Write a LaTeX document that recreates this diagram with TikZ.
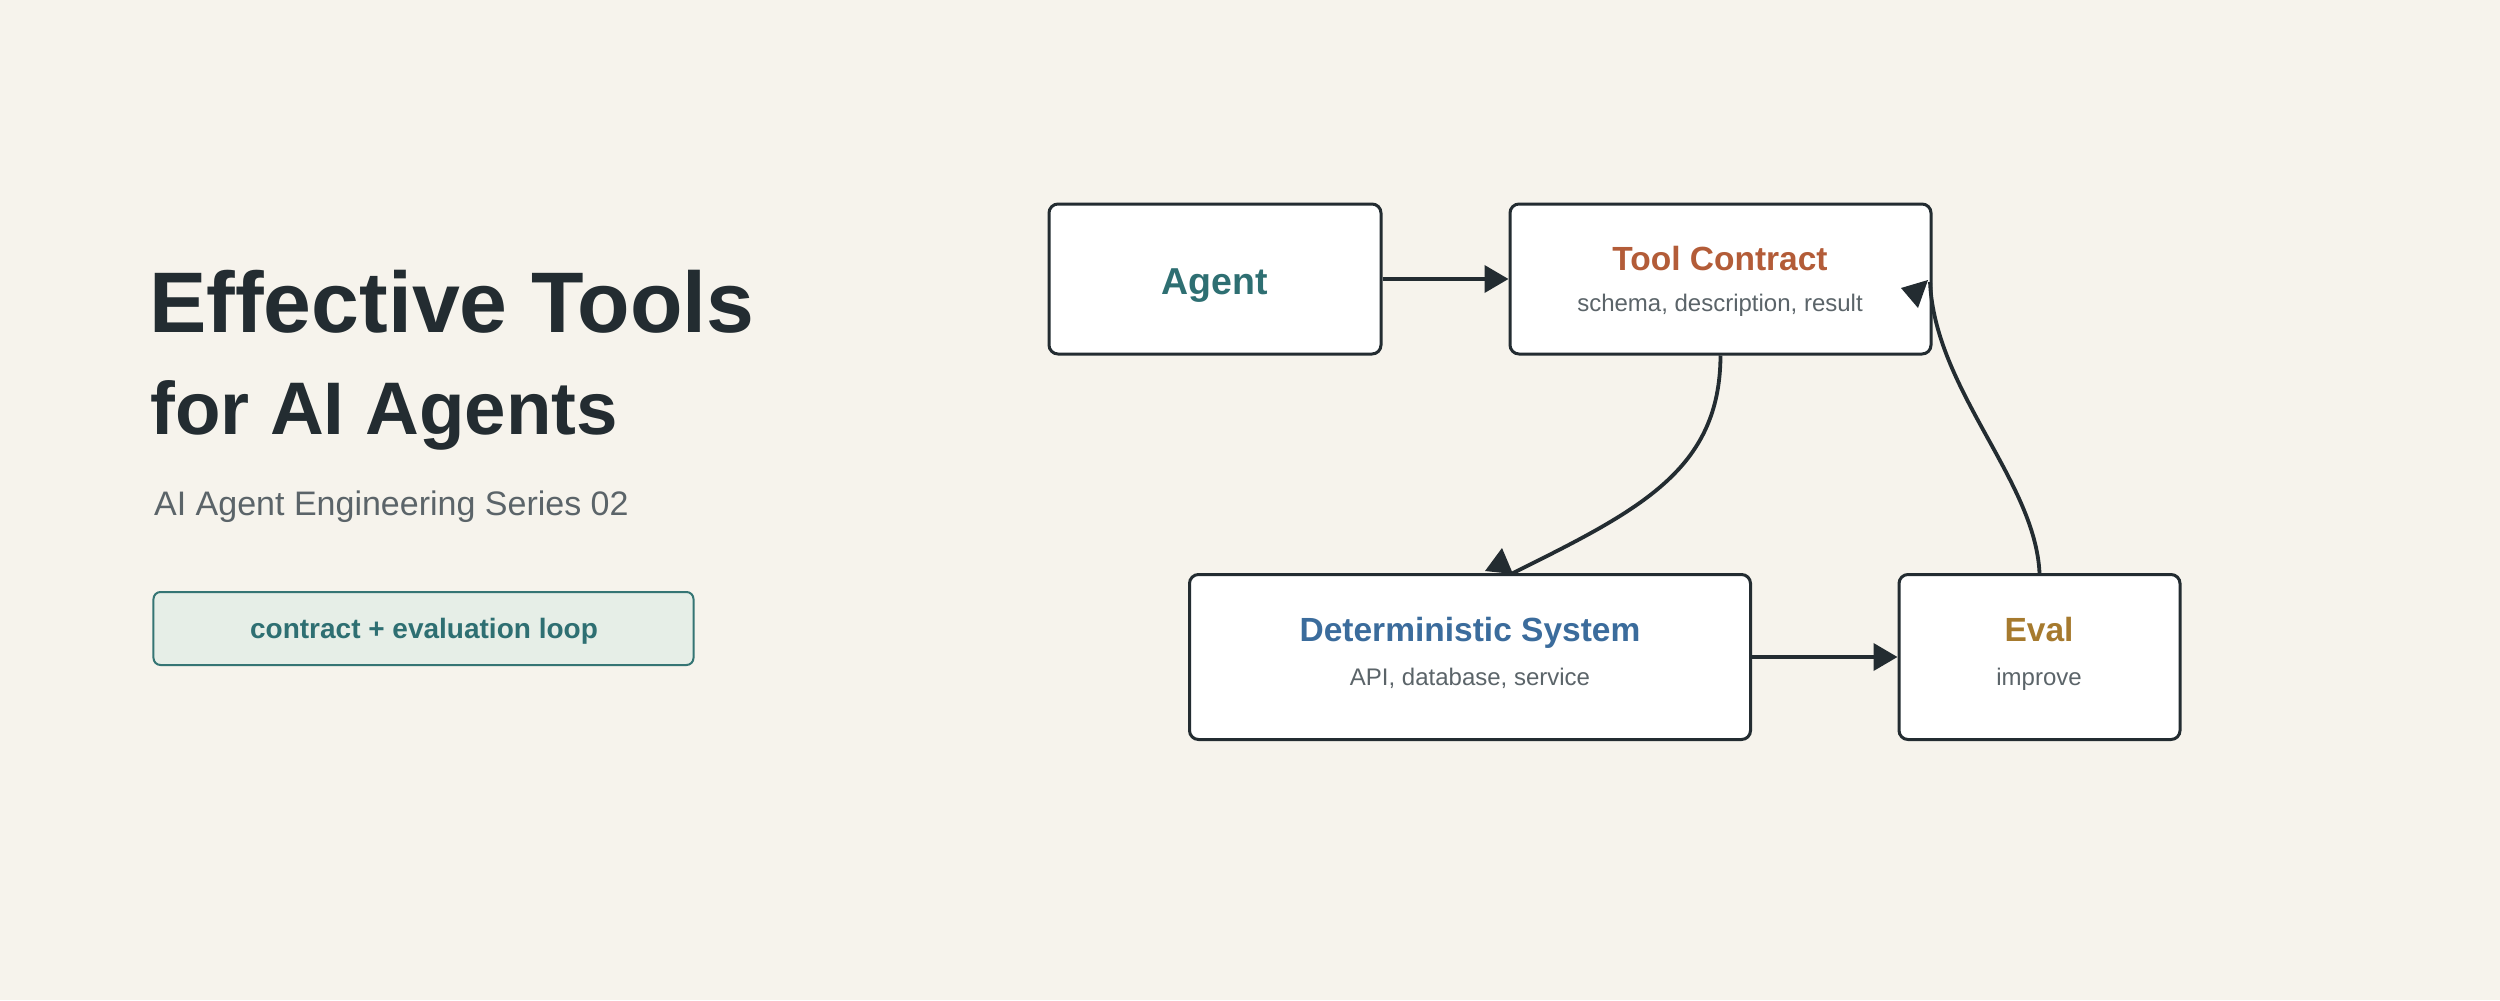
\documentclass[tikz,border=0pt]{standalone}
\usepackage{fontspec}
\setmainfont{Liberation Sans}
\usetikzlibrary{arrows.meta}
\definecolor{bgc}{HTML}{F6F3EC}
\definecolor{ink}{HTML}{232C31}
\definecolor{graytxt}{HTML}{5B6469}
\definecolor{teal}{HTML}{2E6F72}
\definecolor{rust}{HTML}{B35C38}
\definecolor{blu}{HTML}{3B6C9C}
\definecolor{gold}{HTML}{A67A2E}
\definecolor{badgefill}{HTML}{E6EEE7}
\definecolor{badgeline}{HTML}{357574}
\tikzset{
  box/.style={draw=ink, fill=white, line width=3bp, rounded corners=9bp, inner sep=0},
  conn/.style={draw=ink, line width=3.8bp},
  tip/.style={-{Triangle[length=24bp,width=27bp]}},
  head/.style={fill=ink},
  ttl/.style={anchor=base, inner sep=0, font=\fontsize{33.5bp}{40bp}\selectfont\bfseries},
  sub/.style={anchor=base, inner sep=0, text=graytxt, font=\fontsize{24bp}{29bp}\selectfont},
}
\begin{document}
\begin{tikzpicture}[x=1bp,y=-1bp]
\useasboundingbox (0,0) rectangle (2500,1000);
\fill[bgc] (0,0) rectangle (2500,1000);

% left column
\node[anchor=base west, inner sep=0, text=ink, font=\fontsize{86bp}{100bp}\selectfont\bfseries] (t1) at (149,332) {Effective Tools};
\node[anchor=base west, inner sep=0, text=ink, font=\fontsize{74.5bp}{88bp}\selectfont\bfseries] (t2) at (150,434) {for AI Agents};
\node[anchor=base west, inner sep=0, text=graytxt, font=\fontsize{34bp}{40bp}\selectfont] (t3) at (154,515) {AI Agent Engineering Series 02};
\node[draw=badgeline, fill=badgefill, line width=2bp, rounded corners=7bp, minimum width=540bp, minimum height=73bp, inner sep=0] (badge) at (423.5,628.5) {};
\node[anchor=base, inner sep=0, text=teal, font=\fontsize{28bp}{34bp}\selectfont\bfseries] (badgetxt) at (424,638) {contract + evaluation loop};

% boxes
\node[box, minimum width=332bp, minimum height=150bp] (agent) at (1215,279) {};
\node[box, minimum width=421bp, minimum height=150bp] (tc) at (1720.5,279) {};
\node[box, minimum width=561bp, minimum height=165bp] (det) at (1470,657) {};
\node[box, minimum width=281bp, minimum height=165bp] (ev) at (2039.5,657) {};

% texts
\node[anchor=base, inner sep=0, text=teal, font=\fontsize{37.5bp}{44bp}\selectfont\bfseries] (agenttxt) at (1215,294) {Agent};
\node[ttl, text=rust] (tctitle) at (1720,270) {Tool Contract};
\node[sub] (tcsub) at (1720,311) {schema, description, result};
\node[ttl, text=blu] (dettitle) at (1470,641) {Deterministic System};
\node[sub] (detsub) at (1470,685) {API, database, service};
\node[ttl, text=gold] (evtitle) at (2039,641) {Eval};
\node[sub] (evsub) at (2039,685) {improve};

% connectors
\draw[conn, tip] (agent.east) -- (tc.west);
\draw[conn, tip] (det.east) -- (ev.west);
\coordinate (detin) at (1511,574);
\draw[conn] (tc.south) .. controls (1720,470) and (1640,510) .. (detin);
\fill[head] (1485,571) -- (1502,548) -- (1513,574) -- cycle;
\coordinate (tcin) at (1930,282);
\draw[conn] (ev.north) .. controls (2035,480) and (1935,390) .. (tcin);
\fill[head] (1901,288) -- (1928,280) -- (1918,308) -- cycle;
\end{tikzpicture}
\end{document}
